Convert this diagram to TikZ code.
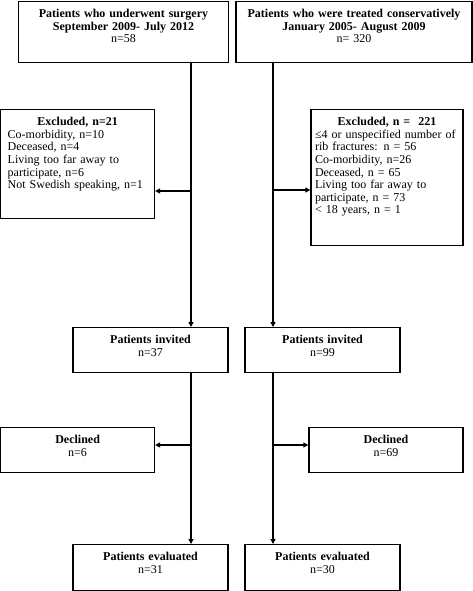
\documentclass[tikz,border=0pt]{standalone}
\usepackage{fontspec}
\setmainfont{Liberation Serif}
\usetikzlibrary{arrows.meta}
\tikzset{
  box/.style={draw, line width=1.3pt, anchor=north, inner xsep=4pt, inner ysep=4pt,
    text height=12pt, font=\fontsize{12}{12.6}\selectfont, align=center},
  flow/.style={line width=1.3pt, -{Triangle[length=5pt,width=5pt]}}
}
\begin{document}
\begin{tikzpicture}[x=1pt,y=-1pt]
  \useasboundingbox (0,0) rectangle (473,591);
  % start boxes
  \node[box, text width=202pt, text depth=41pt] (surg) at (123.5,1)
    {\textbf{Patients who underwent surgery}\\ \textbf{September 2009- July 2012}\\ n=58};
  \node[box, text width=228pt, text depth=41pt] (cons) at (354,1)
    {\textbf{Patients who were treated conservatively}\\ \textbf{January 2005- August 2009}\\ n= 320};
  % excluded
  \node[box, align=left, inner xsep=7pt, text width=139.75pt, text depth=89pt] (exclL) at (77.6,109)
    {\centerline{\textbf{Excluded, n=21}}
     Co-morbidity, n=10\\ Deceased, n=4\\ Living too far away to\\ participate, n=6\\
     Not Swedish speaking, n=1};
  \node[box, align=left, text width=144pt, text depth=116pt] (exclR) at (387,109)
    {\centerline{\textbf{Excluded, n =\ \ 221}}
     ≤4 or unspecified number of\\ rib fractures: n = 56\\ Co-morbidity, n=26\\
     Deceased, n = 65\\ Living too far away to\\ participate, n = 73\\ < 18 years, n = 1};
  % invited
  \node[box, text width=147pt, text depth=25pt] (invL) at (150.5,327)
    {\textbf{Patients invited}\\ n=37};
  \node[box, text width=147pt, text depth=25pt] (invR) at (322.5,327)
    {\textbf{Patients invited}\\ n=99};
  % declined
  \node[box, text width=145.75pt, text depth=25pt] (declL) at (77.6,427)
    {\textbf{Declined}\\ n=6};
  \node[box, text width=146pt, text depth=25pt] (declR) at (386,427)
    {\textbf{Declined}\\ n=69};
  % evaluated
  \node[box, text width=147pt, text depth=26pt] (evalL) at (150.5,544)
    {\textbf{Patients evaluated}\\ n=31};
  \node[box, text width=147pt, text depth=26pt] (evalR) at (322.5,544)
    {\textbf{Patients evaluated}\\ n=30};
  % connectors
  \coordinate (lx) at (191,0);
  \coordinate (rx) at (273,0);
  \coordinate (lexc) at (191,191);
  \coordinate (rexc) at (273,190);
  \coordinate (ldec) at (191,445);
  \coordinate (rdec) at (273,445);
  \draw[flow] (surg.south -| lx) -- (invL.north -| lx);
  \draw[flow] (cons.south -| rx) -- (invR.north -| rx);
  \draw[flow] (lexc) -- (lexc -| exclL.east);
  \draw[flow] (rexc) -- (rexc -| exclR.west);
  \draw[flow] (invL.south -| lx) -- (evalL.north -| lx);
  \draw[flow] (invR.south -| rx) -- (evalR.north -| rx);
  \draw[flow] (ldec) -- (ldec -| declL.east);
  \draw[flow] (rdec) -- (rdec -| declR.west);
\end{tikzpicture}
\end{document}
